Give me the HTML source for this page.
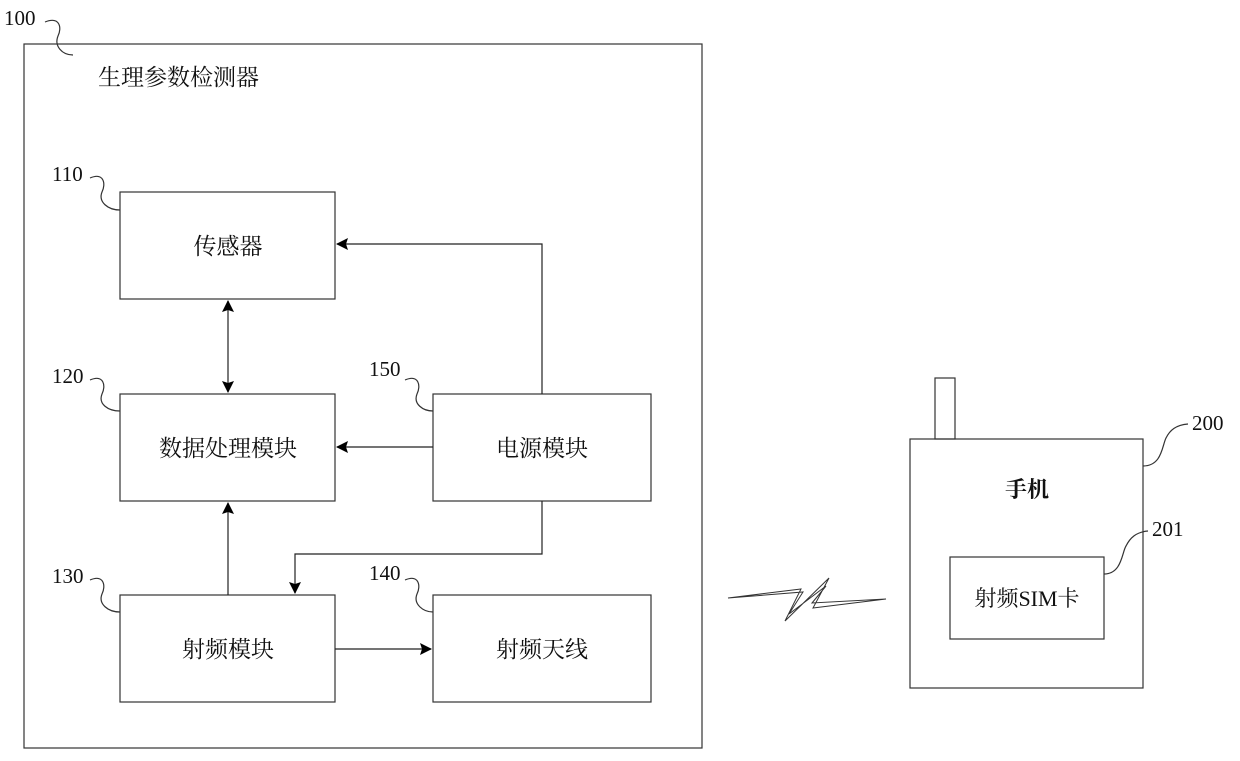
<!DOCTYPE html>
<html><head><meta charset="utf-8"><style>
body{margin:0;background:#fff;}
svg text{font-family:"Liberation Serif","Noto Serif CJK SC","Noto Sans CJK SC",serif;fill:#111;}
</style></head><body>
<svg width="1240" height="756" viewBox="0 0 1240 756" xmlns="http://www.w3.org/2000/svg">
<defs><marker id="a" markerWidth="12" markerHeight="12" refX="11" refY="6" orient="auto" markerUnits="userSpaceOnUse" viewBox="0 0 12 12"><path d="M0,0 L12,6 L0,12 L2,6 Z" fill="#000"/></marker>
<marker id="s" markerWidth="12" markerHeight="12" refX="1" refY="6" orient="auto" markerUnits="userSpaceOnUse" viewBox="0 0 12 12"><path d="M12,0 L0,6 L12,12 L10,6 Z" fill="#000"/></marker></defs>
<g fill="none" stroke="#333" stroke-width="1.2">
<rect x="24" y="44" width="678" height="704"/>
<rect x="120" y="192" width="215" height="107"/>
<rect x="120" y="394" width="215" height="107"/>
<rect x="120" y="595" width="215" height="107"/>
<rect x="433" y="394" width="218" height="107"/>
<rect x="433" y="595" width="218" height="107"/>
<rect x="910" y="439" width="233" height="249"/>
<rect x="935" y="378" width="20" height="61"/>
<rect x="950" y="557" width="154" height="82"/>
<path d="M728,598 L801,589 L785,621 L829,578 L813,608 L886,599 L812,603 L826,586 L789,614 L803,592 Z" stroke-width="1"/>
<path d="M45,22 C60,16 62,28 58,36 C54,46 62,55 73,55"/>
<path d="M90,178 C104,172 106,184 102,192 C98,202 108,210 120,210"/>
<path d="M90,380 C104,374 106,386 102,394 C98,404 108,411 120,411"/>
<path d="M90,580 C104,574 106,586 102,594 C98,604 108,612 120,612"/>
<path d="M405,380 C419,374 421,386 417,394 C413,404 423,411 433,411"/>
<path d="M405,580 C419,574 421,586 417,594 C413,604 423,612 433,612"/>
<path d="M1143,466 C1162,466 1162,446 1166,438 C1170,430 1176,425 1188,424"/>
<path d="M1104,574 C1122,574 1122,552 1126,546 C1130,538 1136,532 1148,531"/>
</g>
<g fill="none" stroke="#222" stroke-width="1.2">
<path d="M542,394 L542,244 L337,244" marker-end="url(#a)"/>
<path d="M433,447 L337,447" marker-end="url(#a)"/>
<path d="M542,501 L542,554 L295,554 L295,593" marker-end="url(#a)"/>
<path d="M228,595 L228,503" marker-end="url(#a)"/>
<path d="M228,301 L228,392" marker-start="url(#s)" marker-end="url(#a)"/>
<path d="M335,649 L431,649" marker-end="url(#a)"/>
</g>
<g font-size="23">
<text x="98" y="85">生理参数检测器</text>
<text x="228" y="254" text-anchor="middle">传感器</text>
<text x="228" y="456" text-anchor="middle">数据处理模块</text>
<text x="228" y="657" text-anchor="middle">射频模块</text>
<text x="542" y="456" text-anchor="middle">电源模块</text>
<text x="542" y="657" text-anchor="middle">射频天线</text>
<text x="1027" y="606" text-anchor="middle" font-size="22">射频SIM卡</text>
<text x="1027" y="497" text-anchor="middle" font-weight="bold" font-family="Liberation Sans,Noto Sans CJK SC,sans-serif" font-size="22">手机</text>
</g>
<g font-size="21">
<text x="4" y="25">100</text>
<text x="52" y="181">110</text>
<text x="52" y="383">120</text>
<text x="52" y="583">130</text>
<text x="369" y="376">150</text>
<text x="369" y="580">140</text>
<text x="1192" y="430">200</text>
<text x="1152" y="536">201</text>
</g>
</svg>
</body></html>
